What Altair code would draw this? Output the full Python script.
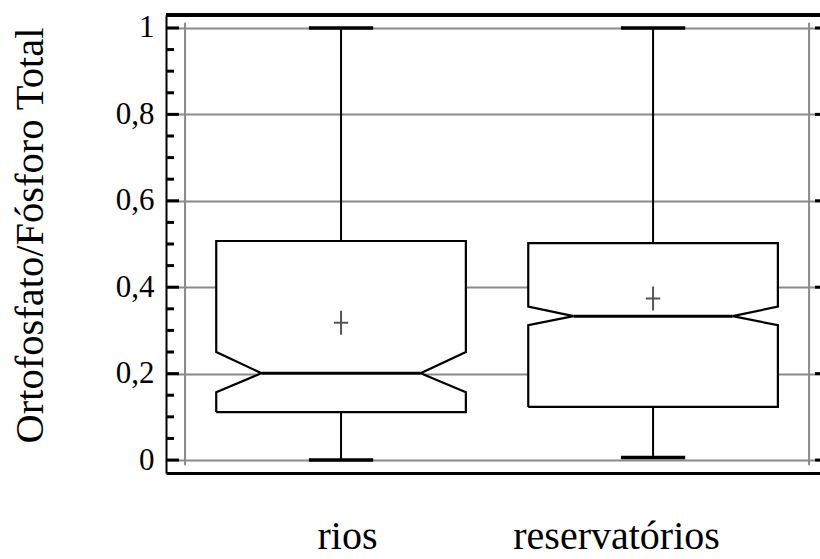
import altair as alt
import pandas as pd

# ---- data ----
categorias = ["rios", "reservatórios"]
posicoes = [0, 1]
minimo = [0.0, 0.006]
q1 = [0.111, 0.123]
entalhe_inf = [0.157, 0.312]
mediana = [0.201, 0.333]
entalhe_sup = [0.250, 0.355]
q3 = [0.507, 0.502]
maximo = [1.0, 1.0]
media = [0.318, 0.374]

ticks_maiores = [0, 0.2, 0.4, 0.6, 0.8, 1.0]
ticks_menores = [0.05, 0.1, 0.15, 0.25, 0.3, 0.35, 0.45, 0.5, 0.55,
                 0.65, 0.7, 0.75, 0.85, 0.9, 0.95]
limites_x = [-0.5, 1.5]

# ---- style ----
FONT = "Liberation Serif"
GRAY = "#8a8a8a"
W, H = 654, 458
MEIA = 0.4        # half box width (category units)
MEIA_ENT = 0.255  # half width at the notch
MEIA_CAP = 0.103  # half whisker cap width

xsc = alt.Scale(domain=[-0.561, 1.535], nice=False, zero=False)
ysc = alt.Scale(domain=[-0.03, 1.03], nice=False, zero=False)

label_expr = " : ".join(
    f"datum.value == {p} ? '{c}'" for p, c in zip(posicoes[:-1], categorias[:-1])
) + f" : '{categorias[-1]}'"

xax = alt.Axis(values=posicoes, labelExpr=label_expr, title=None, grid=False,
               ticks=False, tickSize=0, domain=True, domainColor="black",
               domainWidth=3, labelFont=FONT, labelFontSize=40, labelColor="black",
               labelBaseline="alphabetic", labelPadding=75, labelLimit=0,
               labelOverlap=False,
               labelOffset={"condition": {"test": "datum.value == 1", "value": -37}, "value": 6})
yax = alt.Axis(values=ticks_maiores,
               labelExpr="replace(format(datum.value, '.1~f'), '.', ',')",
               title="Ortofosfato/Fósforo Total", grid=True, gridColor=GRAY,
               gridWidth=2, ticks=False, tickSize=0, domain=True,
               domainColor="black", domainWidth=2, labelFont=FONT,
               labelFontSize=31, labelColor="black", labelPadding=12,
               titleFont=FONT, titleFontSize=40.5, titleFontWeight="normal",
               titleColor="black", titleX=-124, titleY=220, titleAngle=-90,
               titleBaseline="alphabetic", titleAlign="center", titleLimit=0)

X = lambda f: alt.X(f, type="quantitative", scale=xsc, axis=xax)
Y = lambda f: alt.Y(f, type="quantitative", scale=ysc, axis=yax)

# ---- derived tables ----
stats = pd.DataFrame(dict(cat=categorias, pos=posicoes, mn=minimo, q1=q1,
                          nlo=entalhe_inf, med=mediana, nhi=entalhe_sup,
                          q3=q3, mx=maximo, mean=media))
stats["cap_l"] = stats["pos"] - MEIA_CAP
stats["cap_r"] = stats["pos"] + MEIA_CAP
stats["med_l"] = stats["pos"] - MEIA_ENT
stats["med_r"] = stats["pos"] + MEIA_ENT

area_rows, line_rows = [], []
for i, c in enumerate(categorias):
    p = posicoes[i]
    L, R, Li, Ri = p - MEIA, p + MEIA, p - MEIA_ENT, p + MEIA_ENT
    for yv, xl, xr in [(q1[i], L, R), (entalhe_inf[i], L, R), (mediana[i], Li, Ri),
                       (entalhe_sup[i], L, R), (q3[i], L, R)]:
        area_rows.append(dict(cat=c, y=yv, xl=xl, xr=xr))
    pts = [(L, q1[i]), (R, q1[i]), (R, entalhe_inf[i]), (Ri, mediana[i]),
           (R, entalhe_sup[i]), (R, q3[i]), (L, q3[i]), (L, entalhe_sup[i]),
           (Li, mediana[i]), (L, entalhe_inf[i]), (L, q1[i])]
    for k, (xv, yv) in enumerate(pts):
        line_rows.append(dict(cat=c, o=k, x=xv, y=yv))
area_df = pd.DataFrame(area_rows)
line_df = pd.DataFrame(line_rows)

base = alt.Chart(stats)

fill = alt.Chart(area_df).mark_area(orient="horizontal", fill="white", stroke=None).encode(
    y=Y("y"), x=X("xl"), x2="xr", detail="cat:N")
outline = alt.Chart(line_df).mark_line(color="black", strokeWidth=2.2).encode(
    x=X("x"), y=Y("y"), order="o:Q", detail="cat:N")
median_rule = base.mark_rule(color="black", strokeWidth=3).encode(
    x=X("med_l"), x2="med_r", y=Y("med"))
whisk_lo = base.mark_rule(color="black", strokeWidth=2).encode(
    x=X("pos"), y=Y("mn"), y2="q1")
whisk_hi = base.mark_rule(color="black", strokeWidth=2).encode(
    x=X("pos"), y=Y("q3"), y2="mx")
cap_lo = base.mark_rule(color="black", strokeWidth=3.5).encode(
    x=X("cap_l"), x2="cap_r", y=Y("mn"))
cap_hi = base.mark_rule(color="black", strokeWidth=3.5).encode(
    x=X("cap_l"), x2="cap_r", y=Y("mx"))
mean_pt = base.mark_point(shape="M-0.6,0L0.6,0M0,-1L0,1", size=576, filled=False,
                          color="#555555", strokeWidth=2, opacity=1).encode(
    x=X("pos"), y=Y("mean"))

vlines = alt.Chart(pd.DataFrame(dict(x=limites_x, y0=[-0.012] * 2, y1=[1.012] * 2))).mark_rule(
    color=GRAY, strokeWidth=2).encode(x=X("x"), y=Y("y0"), y2="y1")

maj = pd.DataFrame(dict(v=ticks_maiores))
mnr = pd.DataFrame(dict(v=ticks_menores))
tick_maj_l = alt.Chart(maj).mark_rule(color="black", strokeWidth=3).encode(
    y=Y("v"), x=alt.value(0), x2=alt.value(13))
tick_min_l = alt.Chart(mnr).mark_rule(color="black", strokeWidth=3).encode(
    y=Y("v"), x=alt.value(0), x2=alt.value(8))
tick_maj_r = alt.Chart(maj).mark_rule(color="black", strokeWidth=3).encode(
    y=Y("v"), x=alt.value(W - 5), x2=alt.value(W))
top_line = alt.Chart(maj).mark_rule(color="black", strokeWidth=3).encode(
    y=alt.value(0), x=alt.value(0), x2=alt.value(W))

chart = alt.layer(
    vlines, whisk_lo, whisk_hi, fill, outline, median_rule, cap_lo, cap_hi, mean_pt,
    tick_maj_l, tick_min_l, tick_maj_r, top_line
).properties(
    width=W, height=H,
    autosize=alt.AutoSizeParams(type="none"),
    padding={"left": 166, "top": 15, "right": 0, "bottom": 86},
    background="white",
).configure_view(stroke=None)

chart.save("out.html", embed_options={"renderer": "svg", "actions": False})
